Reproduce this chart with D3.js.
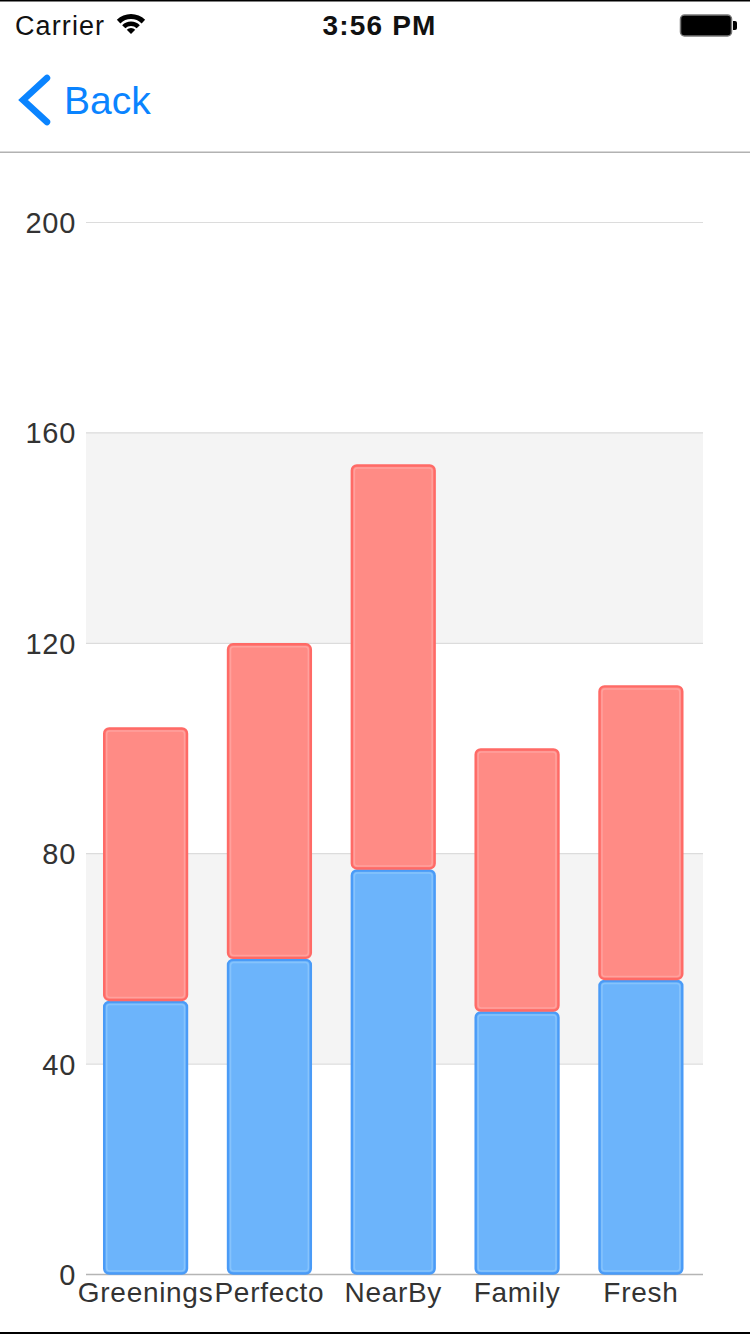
<!DOCTYPE html>
<html>
<head>
<meta charset="utf-8">
<script src="https://cdn.jsdelivr.net/npm/d3@7"></script>
<style>
html, body { margin: 0; padding: 0; background: #fff; }
svg { display: block; }
text { font-family: "Liberation Sans", Arimo, sans-serif; }
</style>
</head>
<body>
<svg id="chart"></svg>
<script>
const categories = ["Greenings", "Perfecto", "NearBy", "Family", "Fresh"];
const blueValues = [52, 60, 77, 50, 56];
const redValues = [52, 60, 77, 50, 56];
const yTicks = [0, 40, 80, 120, 160, 200];

const width = 750;
const height = 1334;
const plot = { left: 84, right: 702.5, top: 222, bottom: 1274 };

const svg = d3.select("#chart").attr("width", width).attr("height", height);

// phone chrome
svg.append("rect").attr("width", width).attr("height", 1.5).attr("fill", "#000");
svg.append("rect").attr("y", 1332).attr("width", width).attr("height", 2).attr("fill", "#000");
svg.append("rect").attr("y", 151.5).attr("width", width).attr("height", 1.5).attr("fill", "#b2b2b2");

svg.append("text").attr("x", 15).attr("y", 35).attr("font-size", 27).attr("letter-spacing", 1.1)
    .attr("fill", "#111").text("Carrier");
svg.append("text").attr("x", 379.5).attr("y", 35).attr("text-anchor", "middle")
    .attr("font-size", 28).attr("letter-spacing", 1.2).attr("font-weight", "bold").attr("fill", "#111").text("3:56 PM");

// wifi icon
const wifi = svg.append("g").attr("transform", "translate(131,34)");
const arc = d3.arc().startAngle(-Math.PI / 4).endAngle(Math.PI / 4);
[[15, 20], [8, 12.5]].forEach(([r0, r1]) => {
    wifi.append("path").attr("d", arc({ innerRadius: r0, outerRadius: r1 })).attr("fill", "#000");
});
wifi.append("path").attr("d", arc({ innerRadius: 0, outerRadius: 6 })).attr("fill", "#000");

// battery icon
svg.append("rect").attr("x", 680.5).attr("y", 15).attr("width", 51).attr("height", 21).attr("rx", 4)
    .attr("fill", "#000").attr("stroke", "#777").attr("stroke-width", 1.5);
svg.append("path").attr("d", "M733,21h2a2,2 0 0 1 2,2v5a2,2 0 0 1 -2,2h-2z").attr("fill", "#000");

// back button
svg.append("path").attr("d", "M47,78 L23,100 L47,122").attr("fill", "none")
    .attr("stroke", "#0a84ff").attr("stroke-width", 6.5).attr("stroke-linecap", "round");
svg.append("text").attr("x", 64).attr("y", 114).attr("font-size", 39).attr("fill", "#0a84ff").text("Back");

// scales
const x = d3.scaleBand().domain(categories).range([plot.left, plot.right]).paddingInner(0.315).paddingOuter(0.155);
const y = d3.scaleLinear().domain([0, 200]).range([plot.bottom, plot.top]);

// alternate grid bands
const bands = [[120, 160], [40, 80]];
svg.append("g").selectAll("rect").data(bands).join("rect")
    .attr("x", 86)
    .attr("width", 703 - 86)
    .attr("y", (d) => y(d[1]))
    .attr("height", (d) => y(d[0]) - y(d[1]))
    .attr("fill", "#f4f4f4");

// y axis with gridlines
const yAxis = svg.append("g").attr("transform", "translate(86,0)")
    .call(d3.axisLeft(y).tickValues(yTicks).tickSize(0).tickPadding(10));
yAxis.select(".domain").remove();
yAxis.selectAll(".tick line")
    .attr("x2", 703 - 86)
    .attr("stroke", (d) => (d === 0 ? "#b5b5b5" : "#dcdcdc"))
    .attr("stroke-width", (d) => (d === 0 ? 1.5 : 1.2));
yAxis.selectAll("text")
    .attr("font-size", 29)
    .attr("letter-spacing", 0.7)
    .attr("fill", "#333")
    .attr("font-family", '"Liberation Sans", sans-serif')
    .attr("dy", "0.36em");

// stacked bars
const rows = categories.map((c, i) => ({ name: c, blue: blueValues[i], red: redValues[i] }));
const stacked = d3.stack().keys(["blue", "red"])(rows);
const fills = { blue: "#6cb4fb", red: "#ff8b85" };
const strokes = { blue: "#4a9bf7", red: "#ff6a66" };
const inner = { blue: "#86c3fc", red: "#ffa19d" };

const layers = svg.append("g").selectAll("g").data(stacked).join("g");
layers.selectAll("rect.bar").data((s) => s.map((d) => ({ d, key: s.key }))).join("rect")
    .attr("class", "bar")
    .attr("x", (e) => x(e.d.data.name) + 1)
    .attr("width", x.bandwidth() - 2)
    .attr("y", (e) => y(e.d[1]) + 1.5)
    .attr("height", (e) => y(e.d[0]) - y(e.d[1]) - 2)
    .attr("rx", 5)
    .attr("fill", (e) => fills[e.key])
    .attr("stroke", (e) => strokes[e.key])
    .attr("stroke-width", 2.4);
layers.selectAll("rect.inner").data((s) => s.map((d) => ({ d, key: s.key }))).join("rect")
    .attr("class", "inner")
    .attr("x", (e) => x(e.d.data.name) + 3.5)
    .attr("width", x.bandwidth() - 7)
    .attr("y", (e) => y(e.d[1]) + 4)
    .attr("height", (e) => y(e.d[0]) - y(e.d[1]) - 7)
    .attr("rx", 3)
    .attr("fill", "none")
    .attr("stroke", (e) => inner[e.key])
    .attr("stroke-width", 1.5);

// x axis labels
const xAxis = svg.append("g").attr("transform", `translate(0,${plot.bottom})`)
    .call(d3.axisBottom(x).tickSize(0).tickPadding(8));
xAxis.select(".domain").remove();
xAxis.selectAll("text")
    .attr("font-size", 28)
    .attr("letter-spacing", 0.7)
    .attr("fill", "#333")
    .attr("font-family", '"Liberation Sans", sans-serif');
</script>
</body>
</html>
